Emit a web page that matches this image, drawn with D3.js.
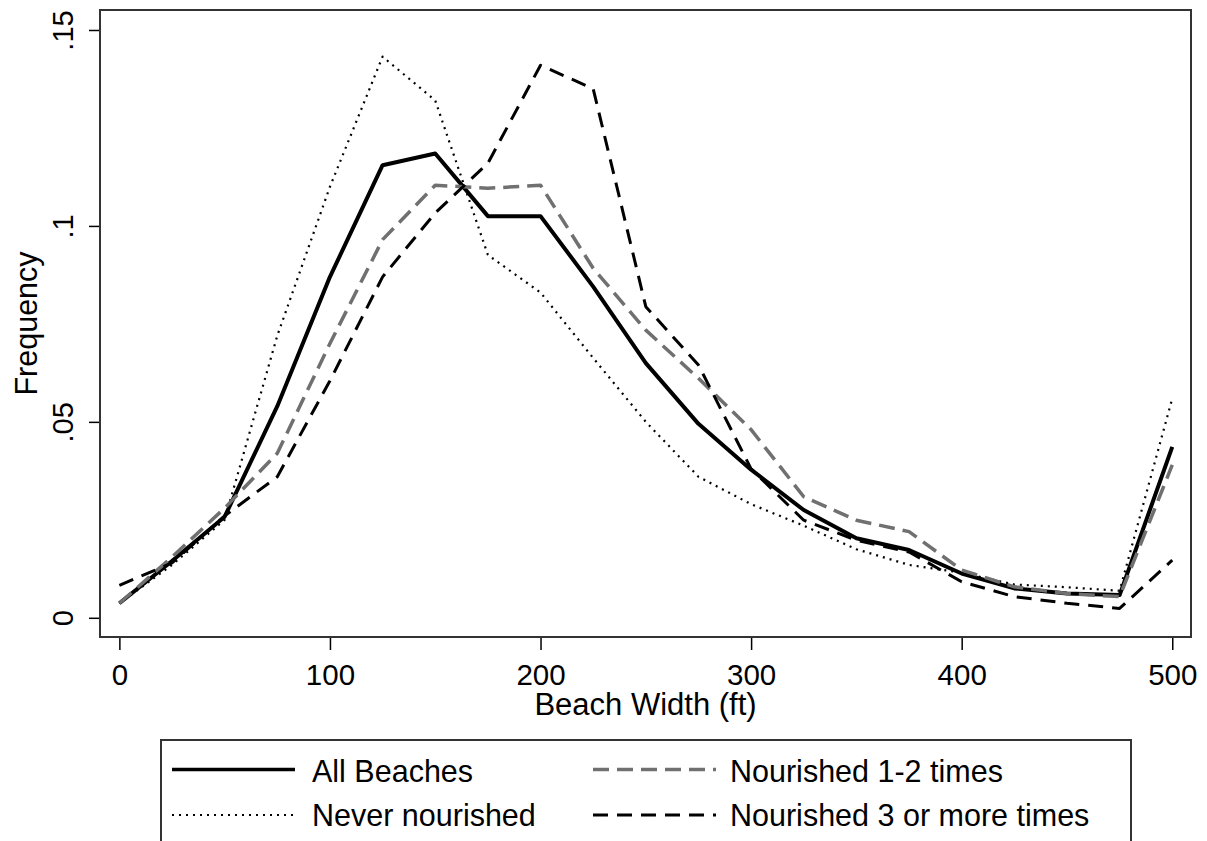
<!DOCTYPE html>
<html>
<head>
<meta charset="utf-8">
<script src="https://cdn.jsdelivr.net/npm/d3@7"></script>
<style>
  body { margin: 0; background: #fff; }
  text { font-family: "Liberation Sans", Arial, sans-serif; fill: #000; }
</style>
</head>
<body>
<svg id="container" width="1207" height="841"></svg>
<script>
// beach width bins (ft)
const widths = [0, 25, 50, 75, 100, 125, 150, 175, 200, 225, 250, 275, 300, 325, 350, 375, 400, 425, 450, 475, 500];

const allBeaches = [0.0037, 0.0145, 0.0258, 0.054, 0.087, 0.1155, 0.1185, 0.1025, 0.1025, 0.0845, 0.065,
                    0.0495, 0.0378, 0.0275, 0.0203, 0.0173, 0.0113, 0.0075, 0.0062, 0.0058, 0.0436];
const neverNourished = [0.0037, 0.0135, 0.025, 0.072, 0.110, 0.1432, 0.132, 0.0926, 0.083, 0.0663, 0.050,
                        0.036, 0.029, 0.0235, 0.0175, 0.0135, 0.0115, 0.0085, 0.0078, 0.0069, 0.056];
const nourished12 = [0.0037, 0.0155, 0.028, 0.042, 0.070, 0.0965, 0.1104, 0.1096, 0.1104, 0.0892, 0.0734,
                     0.0611, 0.048, 0.0309, 0.0249, 0.022, 0.0122, 0.0079, 0.0062, 0.0054, 0.039];
const nourished3 = [0.0083, 0.014, 0.026, 0.036, 0.0605, 0.087, 0.1033, 0.116, 0.141, 0.135, 0.0794,
                    0.0645, 0.038, 0.0249, 0.0198, 0.0168, 0.0092, 0.0054, 0.0037, 0.0024, 0.0147];

const xTicks = [0, 100, 200, 300, 400, 500];
const yTicks = [0, 0.05, 0.1, 0.15];
const yTickLabels = ["0", ".05", ".1", ".15"];

const seriesNames = ["All Beaches", "Never nourished", "Nourished 1-2 times", "Nourished 3 or more times"];
const seriesValues = [allBeaches, neverNourished, nourished12, nourished3];

const styles = [
  {stroke: "#000", width: 4, dash: null},
  {stroke: "#000", width: 2.2, dash: "2,5"},
  {stroke: "#707070", width: 3.5, dash: "16,8"},
  {stroke: "#000", width: 3, dash: "15,9"}
];

const svg = d3.select('#container');
const plotLeft = 100, plotRight = 1191, plotTop = 10, plotBottom = 637;

const x = d3.scaleLinear().domain([-9.2, 508.9]).range([plotLeft, plotRight]);
const y = d3.scaleLinear().domain([-0.0049, 0.1551]).range([plotBottom, plotTop]);

// x axis
const xAxis = svg.append("g")
      .attr("transform", `translate(0,${plotBottom})`)
      .call(d3.axisBottom(x).tickValues(xTicks).tickSize(13).tickFormat(d3.format("d")));
xAxis.select(".domain").remove();
xAxis.selectAll("line").attr("stroke", "#000").attr("stroke-width", 1.5);
xAxis.selectAll("text")
      .attr("font-size", 29.5)
      .attr("font-family", "Liberation Sans, Arial, sans-serif")
      .attr("fill", "#000")
      .attr("y", 48)
      .attr("dy", 0);

// y axis, labels turned on their side
const yAxis = svg.append("g")
      .attr("transform", `translate(${plotLeft},0)`)
      .call(d3.axisLeft(y).tickValues(yTicks).tickSize(11).tickFormat((d, i) => yTickLabels[i]));
yAxis.select(".domain").remove();
yAxis.selectAll("line").attr("stroke", "#000").attr("stroke-width", 1.5);
yAxis.selectAll("text")
      .attr("font-size", 29)
      .attr("font-family", "Liberation Sans, Arial, sans-serif")
      .attr("fill", "#000")
      .attr("x", 0).attr("dy", 0)
      .attr("text-anchor", "middle")
      .attr("transform", "translate(-27,0) rotate(-90)");

// plot frame
svg.append("rect")
      .attr("x", plotLeft).attr("y", plotTop)
      .attr("width", plotRight - plotLeft).attr("height", plotBottom - plotTop)
      .attr("fill", "none")
      .attr("stroke", "#333")
      .attr("stroke-width", 2);

const line = d3.line()
      .x((d, i) => x(widths[i]))
      .y(d => y(d));

svg.selectAll("path.series")
      .data(seriesValues)
      .enter().append("path")
      .attr("class", "series")
      .attr("d", d => line(d))
      .attr("fill", "none")
      .attr("stroke", (d, i) => styles[i].stroke)
      .attr("stroke-width", (d, i) => styles[i].width)
      .attr("stroke-dasharray", (d, i) => styles[i].dash)
      .attr("stroke-linejoin", "round");

// axis titles
svg.append("text")
      .attr("x", (plotLeft + plotRight) / 2)
      .attr("y", 715)
      .attr("text-anchor", "middle")
      .attr("font-size", 31)
      .text("Beach Width (ft)");

svg.append("text")
      .attr("transform", `translate(37,${(plotTop + plotBottom) / 2}) rotate(-90)`)
      .attr("text-anchor", "middle")
      .attr("font-size", 30.5)
      .text("Frequency");

// legend
const legend = svg.append("g");
legend.append("rect")
      .attr("x", 161).attr("y", 740)
      .attr("width", 970).attr("height", 130)
      .attr("fill", "#fff")
      .attr("stroke", "#333")
      .attr("stroke-width", 2);

const legendPos = [
  {lx: 172, tx: 312, ly: 769.5, ty: 782},
  {lx: 172, tx: 312, ly: 815, ty: 826},
  {lx: 593, tx: 730, ly: 769.5, ty: 782},
  {lx: 593, tx: 730, ly: 815, ty: 826}
];

const items = legend.selectAll("g.item")
      .data(seriesNames)
      .enter().append("g")
      .attr("class", "item");

items.append("line")
      .attr("x1", (d, i) => legendPos[i].lx)
      .attr("x2", (d, i) => legendPos[i].lx + 123)
      .attr("y1", (d, i) => legendPos[i].ly)
      .attr("y2", (d, i) => legendPos[i].ly)
      .attr("stroke", (d, i) => styles[i].stroke)
      .attr("stroke-width", (d, i) => Math.min(styles[i].width, 3.5))
      .attr("stroke-dasharray", (d, i) => styles[i].dash);

items.append("text")
      .attr("x", (d, i) => legendPos[i].tx)
      .attr("y", (d, i) => legendPos[i].ty)
      .attr("font-size", 30.5)
      .text(d => d);
</script>
</body>
</html>
